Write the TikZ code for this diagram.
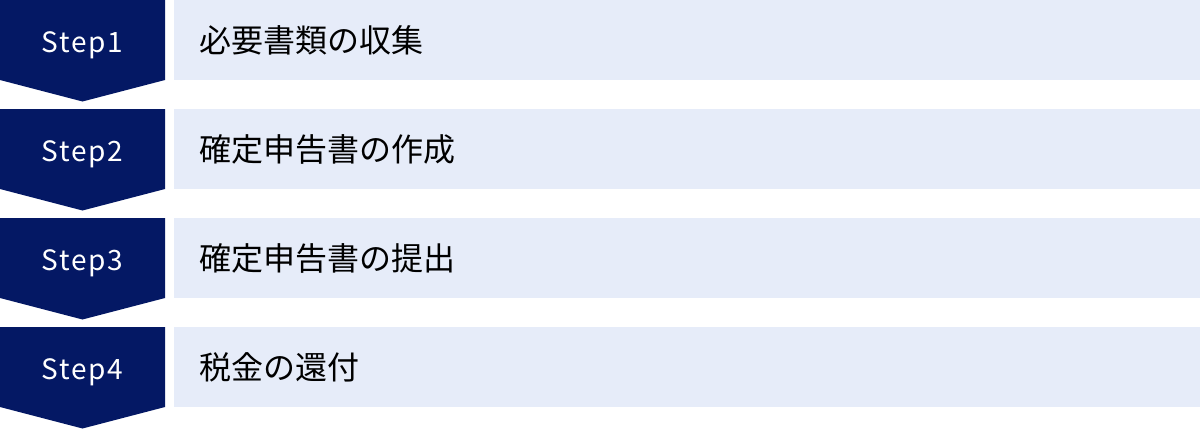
\documentclass[tikz,border=0pt]{standalone}
\usepackage{fontspec}
\setmainfont{Noto Sans CJK JP}
\definecolor{navy}{RGB}{4,24,100}
\definecolor{lightbox}{RGB}{230,236,249}
\tikzset{
  chevron/.style={fill=navy,draw=none},
  steplabel/.style={text=white,font=\fontsize{28}{28}\selectfont,anchor=base,inner sep=0pt},
  infobox/.style={fill=lightbox,draw=none,minimum width=1026pt,minimum height=80pt,anchor=north west,inner sep=0pt},
  infotext/.style={text=black,font=\fontsize{32}{32}\selectfont,anchor=base west,inner sep=0pt}
}
\begin{document}
\begin{tikzpicture}[x=1pt,y=-1pt]
\useasboundingbox (0,0) rectangle (1200,429);
\foreach \i/\lbl/\txt in {0/1/必要書類の収集,1/2/確定申告書の作成,2/3/確定申告書の提出,3/4/税金の還付}{
  \pgfmathsetmacro{\top}{\i*109}
  \fill[chevron] (0,\top) -- (165,\top) -- (165,\top+80) -- (82.5,\top+101.5) -- (0,\top+80) -- cycle;
  \node[steplabel] (s\lbl) at (82.5,\top+52.5) {\addfontfeature{LetterSpace=6}Step\lbl};
  \node[infobox] (b\lbl) at (174,\top) {};
  \node[infotext] (t\lbl) at (199,\top+52) {\txt};
}
\end{tikzpicture}
\end{document}
